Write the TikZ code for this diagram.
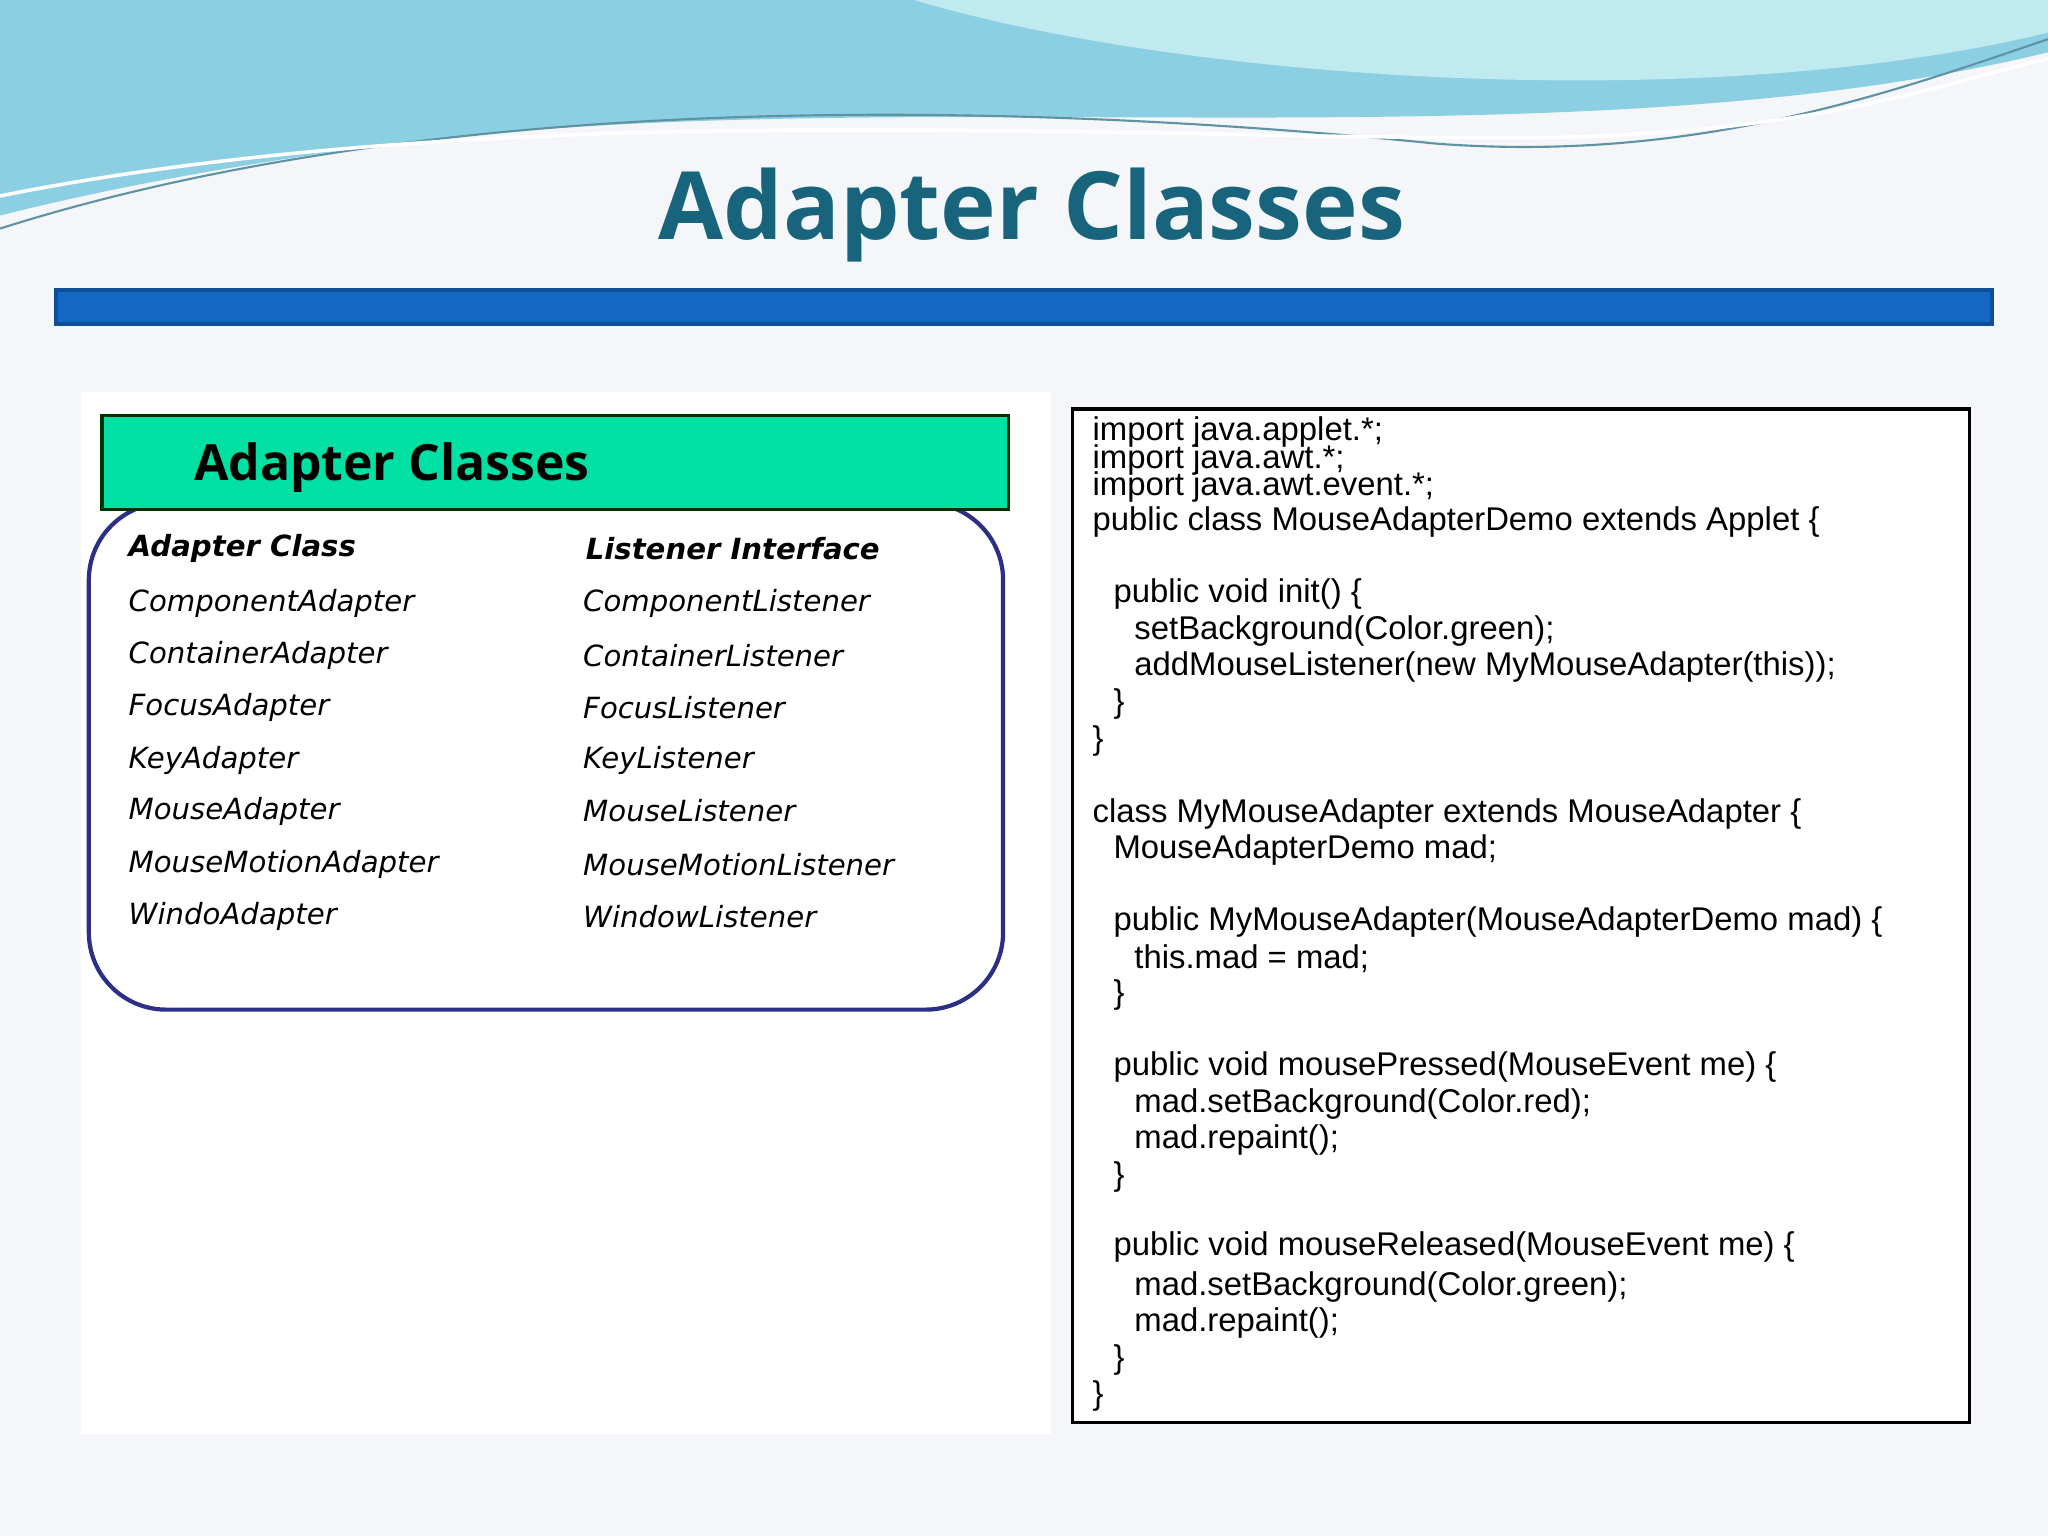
\documentclass[tikz,border=0pt]{standalone}
\usepackage{fontspec}
\setmainfont{Liberation Sans}
\newfontfamily\titlefont{Open Sans}
\newfontfamily\tablefont{DejaVu Sans}
\usetikzlibrary{positioning}
\definecolor{pagebg}{HTML}{F4F6F9}
\definecolor{titleteal}{HTML}{17647C}
\definecolor{barblue}{HTML}{1468C4}
\definecolor{bardark}{HTML}{0E4F96}
\definecolor{headgreen}{HTML}{00E0A2}
\definecolor{boxnavy}{HTML}{2B2F86}
\definecolor{waveA}{HTML}{8CCFE2}
\definecolor{waveB}{HTML}{BFEAF0}
\tikzset{
  tabtext/.style={anchor=west, inner sep=0pt, font=\tablefont\itshape\fontsize{8.3}{10}\selectfont},
  tabhead/.style={tabtext, font=\tablefont\bfseries\itshape\fontsize{8.3}{10}\selectfont},
  codetext/.style={anchor=west, inner sep=0pt, font=\fontsize{9.35}{10}\selectfont}
}
\begin{document}
\begin{tikzpicture}[x=0.01306cm, y=-0.01306cm]
  \fill[pagebg] (0,0) rectangle (1568,1176);
  \useasboundingbox (0,0) rectangle (1568,1176);
  % waves along the top
  \fill[waveA] (0,0) -- (1568,0) -- (1568,40) .. controls (1200,130) and (700,60) .. (300,110)
     .. controls (150,130) and (60,150) .. (0,165) -- cycle;
  \fill[waveB] (700,0) -- (1568,0) -- (1568,25) .. controls (1300,90) and (900,60) .. (700,0) -- cycle;
  \draw[titleteal!70, line width=0.6pt] (0,175) .. controls (300,80) and (700,70) .. (1100,110)
     .. controls (1300,125) and (1450,70) .. (1568,30);
  \draw[white, line width=1pt] (0,150) .. controls (400,70) and (900,110) .. (1200,105)
     .. controls (1400,100) and (1500,60) .. (1568,45);
  \node[font=\titlefont\bfseries\fontsize{26.8}{32}\selectfont, text=titleteal] (title) at (790,165) {Adapter Classes};
  \fill[barblue, draw=bardark, line width=1pt] (43,222) rectangle (1525,248);
  % panel
  \fill[white] (62,300) rectangle (805,1098);
  \draw[boxnavy, line width=1.2pt, rounded corners=22pt] (68,385) rectangle (768,773);
  \fill[headgreen, draw=black!80!green, line width=1pt] (78,318) rectangle (772,390);
  \node[anchor=west, inner sep=0pt, font=\titlefont\bfseries\fontsize{14.2}{16}\selectfont] (head) at (148,358) {Adapter Classes};
  \node[tabhead] (h1) at (98,420) {Adapter Class};
  \node[tabhead] (h2) at (448,420) {Listener Interface};
  \foreach \a/\l/\y in {ComponentAdapter/ComponentListener/462, ContainerAdapter/ContainerListener/502,
      FocusAdapter/FocusListener/542, KeyAdapter/KeyListener/582, MouseAdapter/MouseListener/621,
      MouseMotionAdapter/MouseMotionListener/662, WindoAdapter/WindowListener/702}{
    \node[tabtext] (a-\y) at (98,\y) {\a};
    \node[tabtext] (l-\y) at (446,\y) {\l};
  }
  % code
  \fill[white, draw=black, line width=1pt] (821,313) rectangle (1508,1089);
  \foreach \t/\x/\y in {
      {import java.applet.*;}/836/331, {import java.awt.*;}/836/352, {import java.awt.event.*;}/836/373,
      {public class MouseAdapterDemo extends Applet \{}/836/400,
      {public void init() \{}/852/455, {setBackground(Color.green);}/868/483,
      {addMouseListener(new MyMouseAdapter(this));}/868/511, {\}}/852/539, {\}}/836/567,
      {class MyMouseAdapter extends MouseAdapter \{}/836/623, {MouseAdapterDemo mad;}/852/651,
      {public MyMouseAdapter(MouseAdapterDemo mad) \{}/852/706, {this.mad = mad;}/868/734, {\}}/852/762,
      {public void mousePressed(MouseEvent me) \{}/852/817, {mad.setBackground(Color.red);}/868/845,
      {mad.repaint();}/868/873, {\}}/852/901,
      {public void mouseReleased(MouseEvent me) \{}/852/955, {mad.setBackground(Color.green);}/868/985,
      {mad.repaint();}/868/1013, {\}}/852/1041, {\}}/836/1069}{
    \node[codetext] (c-\y) at (\x,\y) {\t};
  }
\end{tikzpicture}
\end{document}
